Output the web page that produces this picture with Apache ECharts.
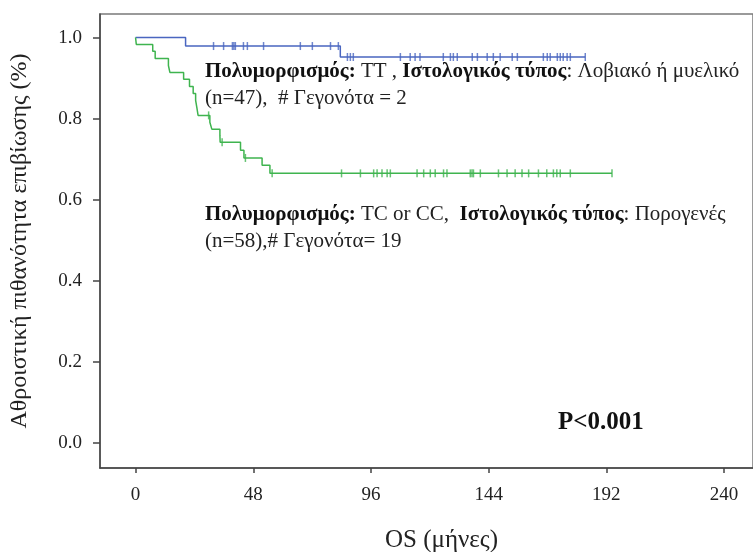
<!DOCTYPE html>
<html>
<head>
<meta charset="utf-8">
<script src="https://cdn.jsdelivr.net/npm/echarts@6/dist/echarts.min.js"></script>
<style>
  html, body { margin: 0; padding: 0; background: #fff; }
  #chart { width: 753px; height: 552px; }
</style>
</head>
<body>
<div id="chart"></div>
<script>
// ticks
const xTicks = [0, 48, 96, 144, 192, 240];
const yTicks = [0, 0.2, 0.4, 0.6, 0.8, 1.0];

// TT / Λοβιακό ή μυελικό (n=47)
const blueTimes = [0, 20.4, 83.5, 183.4];
const blueSurv = [1, 0.979, 0.952, 0.952];
const blueCensored = [31.8, 35.9, 39.5, 40.1, 40.7, 44, 45.6, 52.2, 67.2, 72.1, 79.5, 82.7,
  86.4, 87.6, 88.8, 108, 112, 114, 116, 125.5, 128.4, 129.6, 131.2, 137.3, 139.4, 143.4,
  145.9, 148.7, 153.6, 155.7, 166.3, 167.9, 169.1, 172, 173.2, 174.4, 176, 177.3, 183.4];

// TC or CC / Πορογενές (n=58)
const greenTimes = [0, 0.3, 7, 8, 13.4, 14, 19.6, 22, 23.5, 24.5, 25, 25.5, 30.3, 31.1,
  34.4, 34.5, 42.8, 44.2, 51.6, 54.8, 194.3];
const greenSurv = [1, 0.983, 0.966, 0.948, 0.931, 0.914, 0.897, 0.879, 0.862, 0.845, 0.827,
  0.808, 0.791, 0.774, 0.758, 0.742, 0.722, 0.703, 0.685, 0.665, 0.665];
const greenCensored = [29.8, 35.3, 44.8, 55.7, 84, 91.7, 97.1, 98.5, 100.5, 102.6, 103.9,
  114.8, 117.5, 120.2, 122.2, 125.6, 127, 136.5, 137.2, 137.8, 140.6, 148, 151.5, 154.8,
  157.6, 160.3, 164.3, 167.7, 170.4, 171.8, 173.2, 177.3, 194.3];

const BLUE = '#4a66c0';
const GREEN = '#3fb44f';
const FONT = '"Liberation Serif", "DejaVu Serif", serif';

// survival value of the step curve at time t
function survAt(times, surv, t) {
  let v = surv[0];
  for (let i = 0; i < times.length; i++) {
    if (times[i] <= t) v = surv[i];
  }
  return v;
}

function curve(times, surv) {
  return times.map((t, i) => [t, surv[i]]);
}
function marks(times, surv, cens) {
  return cens.map(t => [t, survAt(times, surv, t)]);
}

const chart = echarts.init(document.getElementById('chart'));
chart.setOption({
  animation: false,
  grid: {
    left: 100, right: 0, top: 14, bottom: 84,
    containLabel: false,
    outerBoundsMode: 'none',
    show: true, borderColor: '#7a7a7a', borderWidth: 1.5
  },
  xAxis: {
    type: 'value',
    min: -14.5,
    max: 251.8,
    name: 'OS (μήνες)',
    nameLocation: 'middle',
    nameGap: 60,
    nameTextStyle: { fontFamily: FONT, fontSize: 25, color: '#222', padding: [0, 0, 0, 30] },
    axisLine: { show: true, onZero: false, lineStyle: { color: '#444', width: 1.5 } },
    axisTick: { show: true, customValues: xTicks, length: 5, lineStyle: { color: '#444', width: 1.5 } },
    axisLabel: { customValues: xTicks, margin: 18, fontFamily: FONT, fontSize: 19, color: '#222' },
    splitLine: { show: false }
  },
  yAxis: {
    type: 'value',
    min: -0.0616,
    max: 1.058,
    name: 'Αθροιστική πιθανότητα επιβίωσης (%)',
    nameLocation: 'middle',
    nameRotate: 90,
    nameGap: 68,
    nameTextStyle: { fontFamily: FONT, fontSize: 24, color: '#222' },
    axisLine: { show: true, onZero: false, lineStyle: { color: '#444', width: 1.5 } },
    axisTick: { show: true, customValues: yTicks, length: 7, lineStyle: { color: '#444', width: 1.5 } },
    axisLabel: {
      customValues: yTicks, margin: 18, fontFamily: FONT, fontSize: 19, color: '#222',
      formatter: v => v.toFixed(1)
    },
    splitLine: { show: false }
  },
  series: [
    {
      type: 'line', step: 'end', showSymbol: false, silent: true,
      data: curve(blueTimes, blueSurv),
      lineStyle: { color: BLUE, width: 1.5 }
    },
    {
      type: 'scatter', silent: true,
      data: marks(blueTimes, blueSurv, blueCensored),
      symbol: 'rect', symbolSize: [1.5, 8],
      itemStyle: { color: BLUE }
    },
    {
      type: 'line', step: 'end', showSymbol: false, silent: true,
      data: curve(greenTimes, greenSurv),
      lineStyle: { color: GREEN, width: 1.5 }
    },
    {
      type: 'scatter', silent: true,
      data: marks(greenTimes, greenSurv, greenCensored),
      symbol: 'rect', symbolSize: [1.5, 8],
      itemStyle: { color: GREEN }
    }
  ],
  graphic: [
    {
      type: 'text', left: 205, top: 58, z: 10,
      style: {
        text: '{b|Πολυμορφισμός:} TT , {b|Ιστολογικός τύπος}: Λοβιακό ή μυελικό\n(n=47),  # Γεγονότα = 2',
        fontFamily: FONT, fontSize: 21, fill: '#222', lineHeight: 27,
        rich: {
          b: { fontFamily: FONT, fontSize: 21, fontWeight: 'bold', fill: '#111', lineHeight: 27 }
        }
      }
    },
    {
      type: 'text', left: 205, top: 201, z: 10,
      style: {
        text: '{b|Πολυμορφισμός:} TC or CC,  {b|Ιστολογικός τύπος}: Πορογενές\n(n=58),# Γεγονότα= 19',
        fontFamily: FONT, fontSize: 21, fill: '#222', lineHeight: 27,
        rich: {
          b: { fontFamily: FONT, fontSize: 21, fontWeight: 'bold', fill: '#111', lineHeight: 27 }
        }
      }
    },
    {
      type: 'text', left: 558, top: 410, z: 10,
      style: { text: 'P<0.001', fontFamily: FONT, fontSize: 25, fontWeight: 'bold', fill: '#111' }
    }
  ]
});
</script>
</body>
</html>
